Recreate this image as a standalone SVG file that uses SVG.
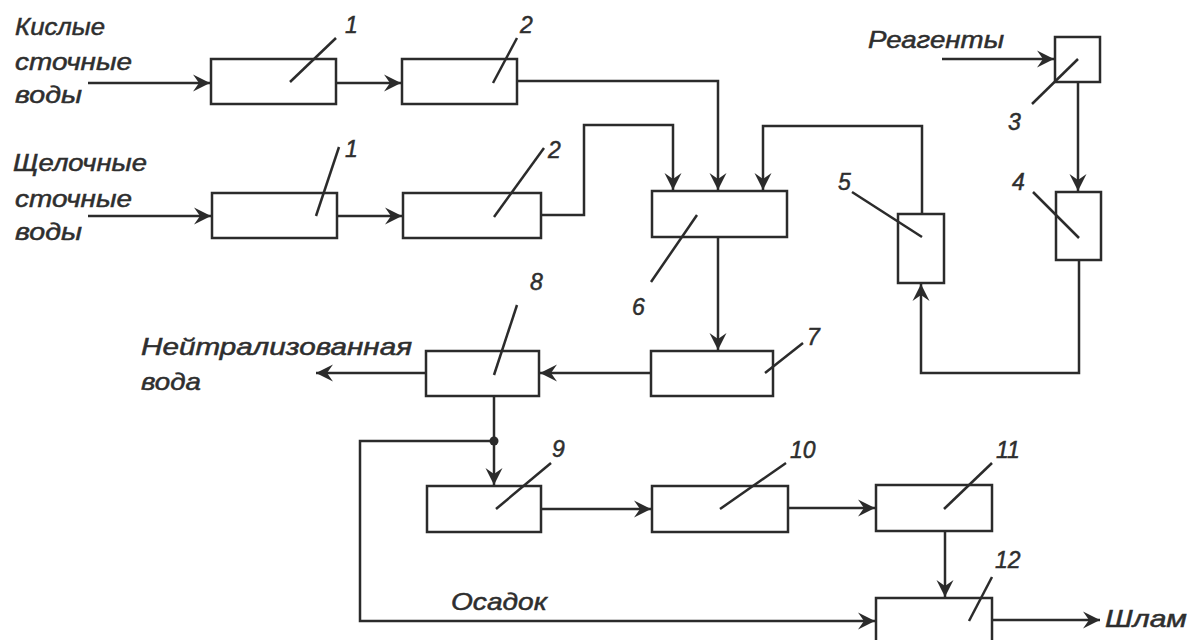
<svg xmlns="http://www.w3.org/2000/svg" width="1195" height="640" viewBox="0 0 1195 640">
<style>
.box{fill:#fff;stroke:#2b2b2b;stroke-width:2.5}
.ld{stroke:#2b2b2b;stroke-width:2.5;fill:none}
.cn{stroke:#2b2b2b;stroke-width:2.5;fill:none}
.ar{marker-end:url(#ah)}
.lbl{font-family:"Liberation Sans",Arial,sans-serif;font-style:italic;font-size:24px;fill:#2e2e2e;stroke:#2e2e2e;stroke-width:0.5}
.num{font-family:"Liberation Sans",Arial,sans-serif;font-style:italic;font-size:23px;fill:#2e2e2e;stroke:#2e2e2e;stroke-width:0.5}
</style>
<defs>
<marker id="ah" viewBox="-19 -9 20 18" refX="0" refY="0" markerWidth="20" markerHeight="18" markerUnits="userSpaceOnUse" orient="auto">
<path d="M0,0 L-17,-8.5 L-11,0 L-17,8.5 Z" fill="#2b2b2b"/>
</marker>
</defs>
<rect width="1195" height="640" fill="#fff"/>

<g id="connectors">
<path class="cn ar" d="M88,83 H210"/>
<path class="cn ar" d="M336,83 H401"/>
<path class="cn ar" d="M517,81 H718 V190"/>
<path class="cn ar" d="M88,216 H211"/>
<path class="cn ar" d="M337,216 H402"/>
<path class="cn ar" d="M541,215 H584 V125 H673 V190"/>
<path class="cn ar" d="M922,214 V126 H763 V190"/>
<path class="cn ar" d="M942,59 H1054"/>
<path class="cn ar" d="M1078,82 V191"/>
<path class="cn ar" d="M1079,260 V373 H921 V284"/>
<path class="cn ar" d="M718,237 V350"/>
<path class="cn ar" d="M651,373 H540"/>
<path class="cn ar" d="M426,373 H316"/>
<path class="cn ar" d="M494,396 V485"/>
<path class="cn ar" d="M494,441 H360 V621 H875"/>
<circle cx="494" cy="441" r="4.5" fill="#2b2b2b"/>
<path class="cn ar" d="M541,509 H651"/>
<path class="cn ar" d="M788,508 H875"/>
<path class="cn ar" d="M945,531 V597"/>
<path class="cn ar" d="M992,620 H1100"/>
</g>

<g id="inputs">
<text class="lbl" x="15" y="35" textLength="90" lengthAdjust="spacingAndGlyphs">Кислые</text>
<text class="lbl" x="15" y="70" textLength="117" lengthAdjust="spacingAndGlyphs">сточные</text>
<text class="lbl" x="15" y="103" textLength="67" lengthAdjust="spacingAndGlyphs">воды</text>
<text class="lbl" x="13" y="171" textLength="134" lengthAdjust="spacingAndGlyphs">Щелочные</text>
<text class="lbl" x="15" y="207" textLength="117" lengthAdjust="spacingAndGlyphs">сточные</text>
<text class="lbl" x="15" y="240" textLength="67" lengthAdjust="spacingAndGlyphs">воды</text>
<text class="lbl" x="868" y="48" textLength="136" lengthAdjust="spacingAndGlyphs">Реагенты</text>
</g>

<g id="node-1a">
<rect class="box" x="211" y="59" width="125" height="45"/>
<line class="ld" x1="290" y1="82" x2="336" y2="38"/>
<text class="num" x="345" y="33">1</text>
</g>
<g id="node-2a">
<rect class="box" x="402" y="59" width="115" height="45"/>
<line class="ld" x1="493" y1="83" x2="517" y2="38"/>
<text class="num" x="520" y="33">2</text>
</g>
<g id="node-1b">
<rect class="box" x="212" y="193" width="125" height="45"/>
<line class="ld" x1="316" y1="216" x2="339" y2="147"/>
<text class="num" x="345" y="157">1</text>
</g>
<g id="node-2b">
<rect class="box" x="403" y="193" width="138" height="45"/>
<line class="ld" x1="494" y1="217" x2="544" y2="148"/>
<text class="num" x="548" y="158">2</text>
</g>
<g id="node-3">
<rect class="box" x="1055" y="37" width="45" height="45"/>
<line class="ld" x1="1078" y1="59" x2="1032" y2="104"/>
<text class="num" x="1008" y="130">3</text>
</g>
<g id="node-4">
<rect class="box" x="1056" y="192" width="45" height="68"/>
<line class="ld" x1="1079" y1="238" x2="1033" y2="192"/>
<text class="num" x="1012" y="190">4</text>
</g>
<g id="node-5">
<rect class="box" x="898" y="214" width="46" height="69"/>
<line class="ld" x1="922" y1="237" x2="852" y2="192"/>
<text class="num" x="838" y="190">5</text>
</g>
<g id="node-6">
<rect class="box" x="652" y="191" width="135" height="46"/>
<line class="ld" x1="697" y1="215" x2="651" y2="282"/>
<text class="num" x="632" y="315">6</text>
</g>
<g id="node-7">
<rect class="box" x="651" y="351" width="122" height="45"/>
<line class="ld" x1="765" y1="373" x2="803" y2="343"/>
<text class="num" x="807" y="345">7</text>
</g>
<g id="node-8">
<rect class="box" x="426" y="351" width="113" height="45"/>
<line class="ld" x1="494" y1="375" x2="517" y2="305"/>
<text class="num" x="530" y="290">8</text>
<text class="lbl" x="141" y="355" textLength="271" lengthAdjust="spacingAndGlyphs">Нейтрализованная</text>
<text class="lbl" x="141" y="390" textLength="60" lengthAdjust="spacingAndGlyphs">вода</text>
</g>
<g id="node-9">
<rect class="box" x="427" y="486" width="114" height="46"/>
<line class="ld" x1="496" y1="509" x2="551" y2="463"/>
<text class="num" x="552" y="457">9</text>
</g>
<g id="node-10">
<rect class="box" x="652" y="486" width="136" height="46"/>
<line class="ld" x1="720" y1="509" x2="786" y2="463"/>
<text class="num" x="790" y="458">10</text>
</g>
<g id="node-11">
<rect class="box" x="876" y="485" width="116" height="46"/>
<line class="ld" x1="944" y1="509" x2="992" y2="463"/>
<text class="num" x="996" y="458">11</text>
</g>
<g id="node-12">
<rect class="box" x="876" y="598" width="116" height="50"/>
<line class="ld" x1="969" y1="621" x2="992" y2="577"/>
<text class="num" x="995" y="568">12</text>
<text class="lbl" x="451" y="610" textLength="96" lengthAdjust="spacingAndGlyphs">Осадок</text>
<text class="lbl" x="1105" y="627" textLength="82" lengthAdjust="spacingAndGlyphs">Шлам</text>
</g>
</svg>
